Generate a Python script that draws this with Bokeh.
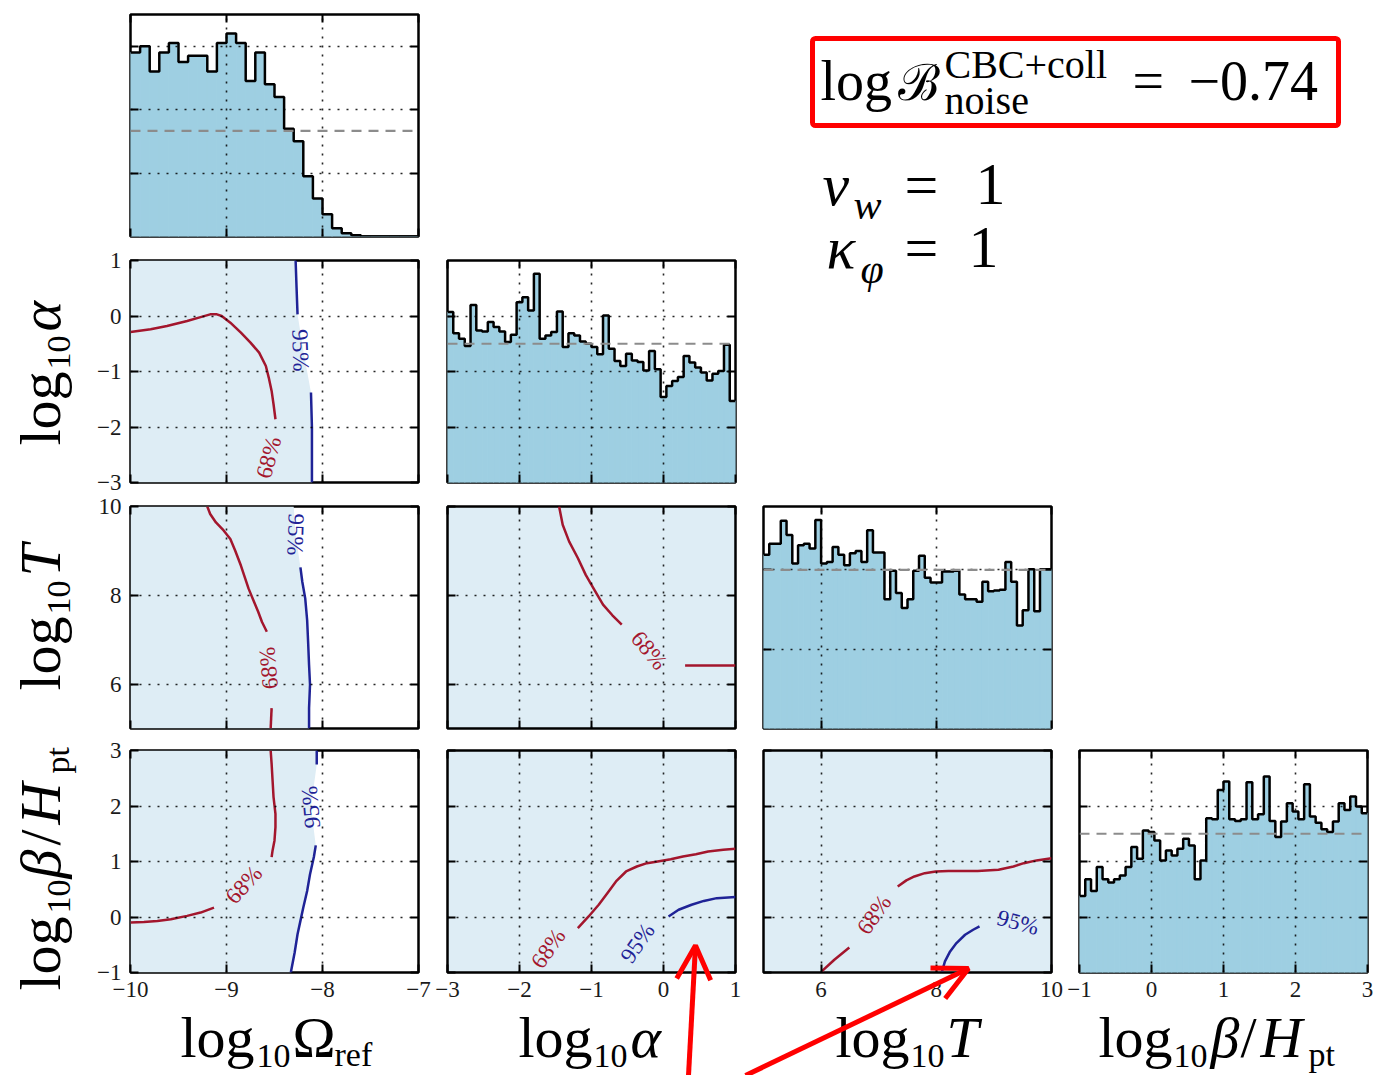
import numpy as np
from bokeh.plotting import figure
from bokeh.models import (Range1d, FixedTicker, LinearAxis, Grid, Label, Span,
                          BoxAnnotation, Arrow, OpenHead, GridBox, CustomJSTickFormatter)
from bokeh.embed import file_html
from bokeh.resources import INLINE

SERIF = "Liberation Serif"
RED = "#a3162d"
BLUE = "#1f2396"
FILL = "#9ecfe2"
TINT = "#deedf5"

# ---------------- parameter ranges and ticks ----------------
om_range = [-10, -7]
al_range = [-3, 1]
T_range = [5, 10]
be_range = [-1, 3]
om_ticks = [-10, -9, -8, -7]
al_ticks = [-3, -2, -1, 0, 1]
T_ticks = [6, 8, 10]
be_ticks = [-1, 0, 1, 2, 3]

# ---------------- 1D marginal histograms (density) ----------------
om_hist = [0.58, 0.60, 0.52, 0.58, 0.61, 0.55, 0.57, 0.57, 0.52, 0.61,
           0.64, 0.61, 0.49, 0.58, 0.48, 0.44, 0.34, 0.30, 0.19, 0.12,
           0.07, 0.026, 0.010, 0.004, 0, 0, 0, 0, 0, 0]
al_hist = [0.307, 0.269, 0.259, 0.246, 0.320, 0.274, 0.272, 0.289, 0.280, 0.272,
           0.253, 0.266, 0.325, 0.334, 0.310, 0.376, 0.259, 0.265, 0.271, 0.308,
           0.244, 0.269, 0.265, 0.254, 0.250, 0.244, 0.231, 0.301, 0.241, 0.219,
           0.210, 0.232, 0.220, 0.217, 0.202, 0.237, 0.204, 0.154, 0.174, 0.183,
           0.190, 0.228, 0.216, 0.207, 0.198, 0.184, 0.196, 0.201, 0.248, 0.147]
T_hist = [0.219, 0.233, 0.233, 0.262, 0.244, 0.208, 0.231, 0.233, 0.227, 0.263,
          0.208, 0.210, 0.229, 0.219, 0.206, 0.221, 0.224, 0.210, 0.250, 0.222,
          0.222, 0.163, 0.199, 0.171, 0.152, 0.163, 0.199, 0.218, 0.190, 0.184,
          0.184, 0.198, 0.198, 0.199, 0.169, 0.163, 0.163, 0.160, 0.185, 0.173,
          0.174, 0.175, 0.210, 0.185, 0.130, 0.149, 0.201, 0.148, 0.201, 0.201]
be_hist = [0.138, 0.168, 0.147, 0.190, 0.168, 0.162, 0.168, 0.175, 0.190, 0.226,
           0.205, 0.256, 0.253, 0.238, 0.202, 0.220, 0.211, 0.223, 0.241, 0.229,
           0.168, 0.202, 0.278, 0.276, 0.329, 0.344, 0.276, 0.273, 0.276, 0.343,
           0.276, 0.285, 0.353, 0.273, 0.244, 0.272, 0.305, 0.290, 0.276, 0.339,
           0.281, 0.270, 0.258, 0.253, 0.272, 0.305, 0.293, 0.317, 0.299, 0.287]
hist_ymax = {"om": 0.70, "al": 0.40, "T": 0.28, "be": 0.40}
hist_yticks = {"om": [0.2, 0.4, 0.6], "al": [0.1, 0.2, 0.3], "T": [0.1, 0.2], "be": [0.1, 0.2, 0.3]}
hist_prior = {"om": 1 / 3, "al": 0.25, "T": 0.2, "be": 0.25}

# ---------------- credible contours (68% red, 95% blue) ----------------
om_al_68 = [([-10.0, -9.79, -9.62, -9.41, -9.27, -9.17, -9.10, -9.05, -8.96, -8.85, -8.75,
              -8.66, -8.59, -8.56, -8.53, -8.51, -8.49],
             [-0.29, -0.24, -0.18, -0.09, -0.02, 0.03, 0.03, 0.0, -0.12, -0.30, -0.48,
              -0.66, -0.90, -1.11, -1.35, -1.59, -1.86])]
om_al_95 = [([-8.28, -8.27, -8.26], [1.0, 0.5, 0.03]),
            ([-8.12, -8.11, -8.11], [-1.38, -2.01, -3.0])]
om_al_lab = [(-8.56, -2.55, "68%", 75, RED), (-8.23, -0.62, "95%", -88, BLUE)]
om_al_edge_x = [-8.28, -8.27, -8.26, -8.20, -8.12, -8.11, -8.11]
om_al_edge_y = [1.0, 0.5, 0.03, -0.62, -1.38, -2.01, -3.0]

om_T_68 = [([-9.20, -9.17, -9.11, -9.03, -8.96, -8.91, -8.85, -8.81, -8.77, -8.72, -8.67, -8.63, -8.58],
            [10.0, 9.83, 9.64, 9.46, 9.27, 9.01, 8.67, 8.41, 8.15, 7.89, 7.63, 7.40, 7.18]),
           ([-8.53, -8.54], [5.46, 5.0])]
om_T_95 = [([-8.23, -8.21, -8.18, -8.16, -8.15, -8.14, -8.13, -8.14, -8.14],
            [8.63, 8.30, 7.93, 7.44, 6.96, 6.43, 5.99, 5.46, 5.0])]
om_T_lab = [(-8.56, 6.36, "68%", 95, RED), (-8.28, 9.37, "95%", -92, BLUE)]
om_T_edge_x = [-8.30, -8.28, -8.23, -8.18, -8.15, -8.13, -8.14]
om_T_edge_y = [10.0, 9.37, 8.63, 7.93, 6.96, 5.99, 5.0]

om_be_68 = [([-8.54, -8.53, -8.52, -8.51, -8.49, -8.49, -8.50, -8.52, -8.53],
             [3.0, 2.76, 2.46, 2.16, 1.86, 1.62, 1.38, 1.20, 1.08]),
            ([-9.13, -9.27, -9.41, -9.58, -9.72, -9.86, -10.0],
             [0.17, 0.08, 0.02, -0.04, -0.07, -0.09, -0.10])]
om_be_95 = [([-8.06, -8.06], [3.0, 2.75]),
            ([-8.07, -8.09, -8.13, -8.16, -8.20, -8.23, -8.26, -8.29, -8.33],
             [1.29, 1.08, 0.77, 0.47, 0.17, -0.07, -0.31, -0.64, -1.0])]
om_be_lab = [(-8.82, 0.58, "68%", 48, RED), (-8.12, 1.98, "95%", 95, BLUE)]
om_be_edge_x = [-8.06, -8.06, -8.12, -8.07, -8.13, -8.20, -8.26, -8.33]
om_be_edge_y = [3.0, 2.75, 1.98, 1.29, 0.77, 0.17, -0.31, -1.0]

al_T_68 = [([-1.45, -1.40, -1.31, -1.19, -1.08, -0.96, -0.84, -0.71, -0.58],
            [10.0, 9.59, 9.21, 8.84, 8.46, 8.12, 7.79, 7.55, 7.34]),
           ([0.30, 1.0], [6.42, 6.42])]
al_T_95 = []
al_T_lab = [(-0.20, 6.76, "68%", -50, RED)]

al_be_68 = [([-1.19, -1.04, -0.90, -0.78, -0.66, -0.52, -0.37, -0.23, -0.08, 0.10, 0.27, 0.45,
              0.62, 0.83, 1.0],
             [-0.20, 0.01, 0.22, 0.43, 0.64, 0.82, 0.91, 0.97, 1.00, 1.04, 1.09, 1.13,
              1.18, 1.21, 1.23])]
al_be_95 = [([0.07, 0.21, 0.39, 0.56, 0.74, 1.0], [0.01, 0.13, 0.22, 0.29, 0.34, 0.36])]
al_be_lab = [(-1.60, -0.57, "68%", 55, RED), (-0.36, -0.47, "95%", 55, BLUE)]

T_be_68 = [([6.01, 6.23, 6.49], [-0.98, -0.77, -0.55]),
           ([7.33, 7.48, 7.62, 7.80, 7.99, 8.21, 8.43, 8.72, 9.08, 9.34, 9.52, 9.74, 10.0],
            [0.55, 0.66, 0.73, 0.79, 0.82, 0.83, 0.83, 0.83, 0.85, 0.91, 0.97, 1.02, 1.06])]
T_be_95 = [([8.10, 8.15, 8.24, 8.35, 8.50, 8.64, 8.75],
            [-0.98, -0.80, -0.62, -0.47, -0.32, -0.23, -0.17])]
T_be_lab = [(6.92, 0.04, "68%", 55, RED), (9.42, -0.10, "95%", -15, BLUE)]

# ---------------- layout geometry (pixels) ----------------
COL_B = [(130, 14), (15, 14), (14, 14), (14, 6)]
ROW_B = [(14, 11), (13, 12), (12, 11), (11, 103)]
FW, FH = 288, 222
PAGE_W, PAGE_H = 1373, 1075
TICK_FONT = "23px"

LABEL_FMT = CustomJSTickFormatter(code="return tick < 0 ? '\\u2212' + Math.abs(tick) : '' + tick;")


def blank_fmt():
    return CustomJSTickFormatter(code="return '';")


def make_fig(r, c, xr, yr, bg="white"):
    lb, rb = COL_B[c]
    tb, bb = ROW_B[r]
    p = figure(width=lb + FW + rb, height=tb + FH + bb,
               x_range=Range1d(*xr), y_range=Range1d(*yr),
               output_backend="svg", toolbar_location=None, title=None,
               x_axis_location=None, y_axis_location=None,
               min_border_left=lb, min_border_right=rb,
               min_border_top=tb, min_border_bottom=bb)
    p.xgrid.visible = False
    p.ygrid.visible = False
    p.background_fill_color = bg
    p.border_fill_color = "white"
    p.outline_line_color = "black"
    p.outline_line_width = 2.5
    return p


def add_axes(p, xt, yt, xlab, ylab):
    for loc, ticks, show in (("below", xt, xlab), ("left", yt, ylab),
                             ("above", xt, False), ("right", yt, False)):
        ax = LinearAxis(ticker=FixedTicker(ticks=ticks))
        ax.axis_line_color = None
        ax.major_tick_in = 8
        ax.major_tick_out = 0
        ax.major_tick_line_width = 2
        ax.major_tick_line_color = "black"
        ax.minor_tick_line_color = None
        if show:
            ax.formatter = LABEL_FMT
            ax.major_label_text_font = SERIF
            ax.major_label_text_font_size = TICK_FONT
            ax.major_label_text_color = "#1a1a1a"
            ax.major_label_standoff = 9
        else:
            ax.formatter = blank_fmt()
            ax.major_label_text_font_size = "0px"
            ax.major_label_standoff = 0
        p.add_layout(ax, loc)
    for dim, ticks in ((0, xt), (1, yt)):
        g = Grid(dimension=dim, ticker=FixedTicker(ticks=ticks), grid_line_color="black",
                 grid_line_dash="2 7", grid_line_width=1.6, grid_line_alpha=0.85, level="guide")
        p.add_layout(g, "center")


def hist_panel(r, c, key, rng, ticks, vals, xlab):
    p = make_fig(r, c, rng, [0, hist_ymax[key]])
    edges = np.linspace(rng[0], rng[1], len(vals) + 1)
    p.quad(left=edges[:-1], right=edges[1:], bottom=0, top=vals,
           fill_color=FILL, line_color=FILL, line_width=1)
    p.step(x=list(edges), y=list(vals) + [vals[-1]], mode="after",
           line_color="black", line_width=2.5)
    p.add_layout(Span(location=hist_prior[key], dimension="width", line_color="#8c8c8c",
                      line_dash="10 7", line_width=2.2))
    add_axes(p, ticks, hist_yticks[key], xlab, False)
    return p


def scatter_panel(r, c, xr, xt, yr, yt, c68, c95, labs, edge=None):
    p = make_fig(r, c, xr, yr, bg="white" if edge else TINT)
    if edge:
        ex, ey = edge
        p.harea(x1=[xr[0]] * len(ex), x2=ex, y=ey, fill_color=TINT)
    for xs, ys in c68:
        p.line(xs, ys, line_color=RED, line_width=2.5, line_join="round")
    for xs, ys in c95:
        p.line(xs, ys, line_color=BLUE, line_width=2.5, line_join="round")
    for x, y, t, ang, col in labs:
        p.add_layout(Label(x=x, y=y, text=t, angle=ang, angle_units="deg",
                           text_align="center", text_baseline="middle",
                           text_font=SERIF, text_font_size="23px", text_color=col))
    add_axes(p, xt, yt, r == 3, c == 0)
    return p


# ---------------- panels ----------------
h_om = hist_panel(0, 0, "om", om_range, om_ticks, om_hist, False)
h_al = hist_panel(1, 1, "al", al_range, al_ticks, al_hist, False)
h_T = hist_panel(2, 2, "T", T_range, T_ticks, T_hist, False)
h_be = hist_panel(3, 3, "be", be_range, be_ticks, be_hist, True)

s_om_al = scatter_panel(1, 0, om_range, om_ticks, al_range, al_ticks, om_al_68, om_al_95, om_al_lab,
                        (om_al_edge_x, om_al_edge_y))
s_om_T = scatter_panel(2, 0, om_range, om_ticks, T_range, T_ticks, om_T_68, om_T_95, om_T_lab,
                       (om_T_edge_x, om_T_edge_y))
s_om_be = scatter_panel(3, 0, om_range, om_ticks, be_range, be_ticks, om_be_68, om_be_95, om_be_lab,
                        (om_be_edge_x, om_be_edge_y))
s_al_T = scatter_panel(2, 1, al_range, al_ticks, T_range, T_ticks, al_T_68, al_T_95, al_T_lab)
s_al_be = scatter_panel(3, 1, al_range, al_ticks, be_range, be_ticks, al_be_68, al_be_95, al_be_lab)
s_T_be = scatter_panel(3, 2, T_range, T_ticks, be_range, be_ticks, T_be_68, T_be_95, T_be_lab)

# ---------------- transparent overlay for titles, annotation text and arrows ----------------
ov = figure(width=PAGE_W, height=PAGE_H, x_range=Range1d(0, 1), y_range=Range1d(0, 1),
            output_backend="svg", toolbar_location=None, title=None,
            x_axis_location=None, y_axis_location=None, min_border=0)
ov.xgrid.visible = False
ov.ygrid.visible = False
ov.outline_line_color = None
ov.background_fill_color = None
ov.border_fill_color = None
ov.styles = {"pointer-events": "none"}

BASE_SHIFT = 0.35  # empirical correction of the alphabetic baseline, in em


def put(px, py, s, size, italic=False, angle=0):
    if angle == 0:
        sx, sy = px, PAGE_H - py + BASE_SHIFT * size
    else:
        sx, sy = px - BASE_SHIFT * size, PAGE_H - py
    ov.add_layout(Label(x=sx, y=sy, x_units="screen", y_units="screen", text=s,
                        text_font=SERIF, text_font_size=f"{size}px",
                        text_font_style="italic" if italic else "normal",
                        angle=angle, angle_units="deg",
                        text_align="left", text_baseline="alphabetic", text_color="black"))


MAIN, SUB = 58, 34
# bottom axis titles
put(180, 1057, "log", MAIN); put(256, 1067, "10", SUB)
put(292, 1057, "\u03a9", MAIN); put(334, 1066, "ref", SUB)
put(518, 1057, "log", MAIN); put(593, 1067, "10", SUB)
put(630, 1057, "\u03b1", MAIN, italic=True)
put(835, 1057, "log", MAIN); put(910, 1067, "10", SUB)
put(946, 1057, "T", MAIN, italic=True)
put(1098, 1057, "log", MAIN); put(1173, 1067, "10", SUB)
put(1210, 1057, "\u03b2", MAIN, italic=True); put(1240, 1057, "/", MAIN)
put(1260, 1057, "H", MAIN, italic=True); put(1308, 1066, "pt", SUB)
# left axis titles (rotated)
put(60, 445, "log", MAIN, angle=90); put(70, 369, "10", SUB, angle=90)
put(60, 331, "\u03b1", MAIN, italic=True, angle=90)
put(60, 690, "log", MAIN, angle=90); put(70, 614, "10", SUB, angle=90)
put(60, 576, "T", MAIN, italic=True, angle=90)
put(60, 990, "log", MAIN, angle=90); put(70, 913, "10", SUB, angle=90)
put(60, 878, "\u03b2", MAIN, italic=True, angle=90); put(60, 845, "/", MAIN, angle=90)
put(60, 824, "H", MAIN, italic=True, angle=90); put(69, 773, "pt", SUB, angle=90)

# annotation text (top right)
ov.add_layout(BoxAnnotation(left=812, right=1338, top=PAGE_H - 38, bottom=PAGE_H - 125,
                            left_units="screen", right_units="screen",
                            top_units="screen", bottom_units="screen",
                            fill_alpha=0, line_color="#ff0000", line_alpha=1.0,
                            line_width=5, border_radius=3))
put(820, 100, "log", 56)
put(897, 100, "\u212c", 50)
put(944, 78, "CBC+coll", 40)
put(944, 114, "noise", 40)
put(1132, 100, "=", 56)
put(1188, 100, "\u22120.74", 56)
put(822, 205, "v", 60, italic=True)
put(853, 219, "w", 42, italic=True)
put(904, 205, "=", 60)
put(975, 205, "1", 60)
put(826, 268, "\u03ba", 60, italic=True)
put(860, 283, "\u03c6", 42, italic=True)
put(904, 268, "=", 60)
put(968, 268, "1", 60)

# red arrows
for (x0, y0, x1, y1) in ((688, 1075, 695, 945), (745, 1075, 968, 968)):
    ov.add_layout(Arrow(x_start=x0, y_start=PAGE_H - y0, x_end=x1, y_end=PAGE_H - y1,
                        start_units="screen", end_units="screen",
                        line_color="#ff0000", line_width=5,
                        end=OpenHead(size=34, line_color="#ff0000", line_width=5)))

# panels occupy grid rows/cols 1..4; the overlay spans 0..5 so that its edges
# share no grid line with any panel (keeps its frame equal to its full canvas)
grid = GridBox(children=[
    (h_om, 1, 1),
    (s_om_al, 2, 1), (h_al, 2, 2),
    (s_om_T, 3, 1), (s_al_T, 3, 2), (h_T, 3, 3),
    (s_om_be, 4, 1), (s_al_be, 4, 2), (s_T_be, 4, 3), (h_be, 4, 4),
    (ov, 0, 0, 6, 6),
], spacing=0)

open("out.html", "w").write(file_html(grid, INLINE))
